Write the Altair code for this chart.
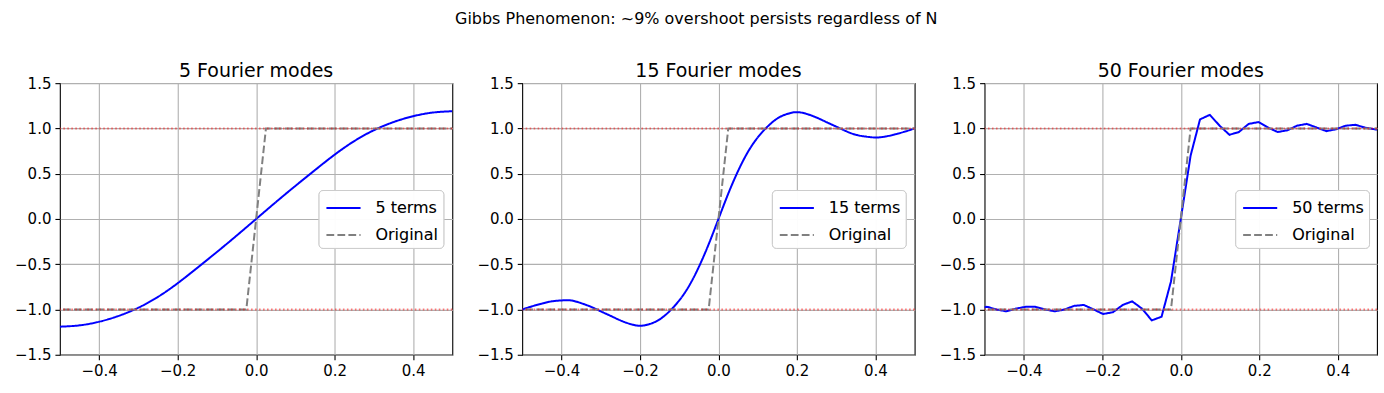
import altair as alt
import pandas as pd

FONT = "DejaVu Sans"

# ---- data ----
panel_titles = ["5 Fourier modes", "15 Fourier modes", "50 Fourier modes"]
series_names = ["5 terms", "15 terms", "50 terms"]

x5 = [-0.5, -0.45, -0.4, -0.35, -0.3, -0.25, -0.2, -0.15, -0.1, -0.05, 0.0,
      0.05, 0.1, 0.15, 0.2, 0.25, 0.3, 0.35, 0.4, 0.45, 0.5]
y5 = [-1.19, -1.175, -1.135, -1.07, -0.98, -0.86, -0.71, -0.54, -0.365, -0.185, 0.0,
      0.185, 0.365, 0.54, 0.71, 0.86, 0.98, 1.07, 1.135, 1.175, 1.19]

x15 = [-0.5, -0.475, -0.45, -0.425, -0.4, -0.375, -0.35, -0.325, -0.3, -0.275,
       -0.25, -0.225, -0.2, -0.175, -0.15, -0.125, -0.1, -0.075, -0.05, -0.025,
       0.0, 0.025, 0.05, 0.075, 0.1, 0.125, 0.15, 0.175, 0.2, 0.225, 0.25,
       0.275, 0.3, 0.325, 0.35, 0.375, 0.4, 0.425, 0.45, 0.475, 0.5]
y15 = [-1.00, -0.965, -0.935, -0.91, -0.90, -0.90, -0.93, -0.97, -1.02, -1.07,
       -1.12, -1.16, -1.18, -1.16, -1.11, -1.02, -0.90, -0.74, -0.53, -0.28,
       0.0, 0.28, 0.53, 0.74, 0.90, 1.02, 1.11, 1.16, 1.18, 1.16, 1.12,
       1.07, 1.02, 0.97, 0.93, 0.91, 0.90, 0.91, 0.935, 0.965, 1.00]

x50 = [-0.519, -0.494, -0.469, -0.445, -0.420, -0.395, -0.371, -0.346, -0.321,
       -0.296, -0.272, -0.247, -0.222, -0.198, -0.173, -0.148, -0.124, -0.099,
       -0.074, -0.049, -0.025, 0.0, 0.025, 0.049, 0.074, 0.099, 0.124, 0.148,
       0.173, 0.198, 0.222, 0.247, 0.272, 0.296, 0.321, 0.346, 0.371, 0.395,
       0.420, 0.445, 0.469, 0.494, 0.519]
y50 = [-0.99, -0.97, -1.00, -1.02, -0.99, -0.97, -0.97, -1.00, -1.02, -1.00,
       -0.96, -0.95, -1.00, -1.05, -1.03, -0.95, -0.91, -0.99, -1.12, -1.08,
       -0.69, 0.0, 0.70, 1.10, 1.15, 1.03, 0.93, 0.96, 1.05, 1.07, 1.01, 0.96,
       0.98, 1.03, 1.05, 1.01, 0.97, 0.99, 1.03, 1.04, 1.01, 0.99, 0.98]

x_orig = [-0.52, -0.025, 0.0, 0.025, 0.52]
y_orig = [-1.0, -1.0, 0.0, 1.0, 1.0]

ref_levels = [-1.0, 1.0]

x_ticks = [-0.4, -0.2, 0.0, 0.2, 0.4]
y_ticks = [-1.5, -1.0, -0.5, 0.0, 0.5, 1.0, 1.5]

curves = [(x5, y5), (x15, y15), (x50, y50)]
interps = ["natural", "natural", "linear"]
legend_x = [259, 250, 251]

W, H = 393, 272


def panel(i):
    name = series_names[i]
    xs, ys = curves[i]
    df = pd.DataFrame({"x": xs, "y": ys, "series": name, "order": range(len(xs))})
    dfo = pd.DataFrame({"x": x_orig, "y": y_orig, "series": "Original",
                        "order": range(len(x_orig))})
    xenc = alt.X("x:Q", title=None,
                 scale=alt.Scale(domain=[-0.5, 0.5], nice=False, zero=False),
                 axis=alt.Axis(values=x_ticks, format=".1f"))
    yenc = alt.Y("y:Q", title=None,
                 scale=alt.Scale(domain=[-1.5, 1.5], nice=False, zero=False),
                 axis=alt.Axis(values=y_ticks, format=".1f"))
    leg = alt.Legend(title=None, orient="none", legendX=legend_x[i], legendY=107)
    color = alt.Color("series:N",
                      scale=alt.Scale(domain=[name, "Original"], range=["#0000ff", "#808080"]),
                      legend=leg)
    dash = alt.StrokeDash("series:N",
                          scale=alt.Scale(domain=[name, "Original"],
                                          range=[[1, 0], [7.7, 3.3]]),
                          legend=leg)
    fourier = alt.Chart(df).mark_line(strokeWidth=2, clip=True,
                                      interpolate=interps[i]).encode(
        x=xenc, y=yenc, color=color, strokeDash=dash, order="order:Q")
    orig = alt.Chart(dfo).mark_line(strokeWidth=2, clip=True).encode(
        x=xenc, y=yenc, color=color, strokeDash=dash, order="order:Q")
    refs = alt.Chart(pd.DataFrame({"level": ref_levels})).mark_rule(
        color="#ff0000", opacity=0.5, strokeWidth=2, strokeDash=[1.6, 2.4]
    ).encode(y=alt.Y("level:Q", scale=alt.Scale(domain=[-1.5, 1.5], nice=False)))
    return alt.layer(fourier, orig, refs).properties(
        width=W, height=H,
        title=alt.TitleParams(panel_titles[i], fontSize=19, fontWeight="normal",
                              font=FONT, color="black", offset=-5)
    ).resolve_scale(color="independent", strokeDash="independent")


chart = alt.hconcat(panel(0), panel(1), panel(2), spacing=22).resolve_scale(
    color="independent", strokeDash="independent"
).resolve_legend(color="independent", strokeDash="independent").properties(
    title=alt.TitleParams("Gibbs Phenomenon: ~9% overshoot persists regardless of N",
                          fontSize=16, fontWeight="normal", font=FONT, anchor="middle",
                          color="black", offset=35),
    padding={"left": 14, "top": 10, "right": 5, "bottom": 5},
).configure_view(
    stroke="black", strokeWidth=1.1
).configure_axis(
    domain=False, grid=True, gridColor="#b0b0b0", gridWidth=1.1,
    tickColor="black", tickSize=5, tickWidth=1.1, labelPadding=4,
    labelFont=FONT, labelFontSize=15, labelColor="black"
).configure_legend(
    fillColor="rgba(255,255,255,0.8)", strokeColor="#cccccc", cornerRadius=4,
    padding=5, labelFont=FONT, labelFontSize=16, labelColor="black",
    symbolType="M-1.42,0H1.42", symbolSize=576, symbolStrokeWidth=2, rowPadding=6,
    symbolOffset=7, labelOffset=19
)

chart.save("out.html", embed_options={"renderer": "svg", "actions": False})
